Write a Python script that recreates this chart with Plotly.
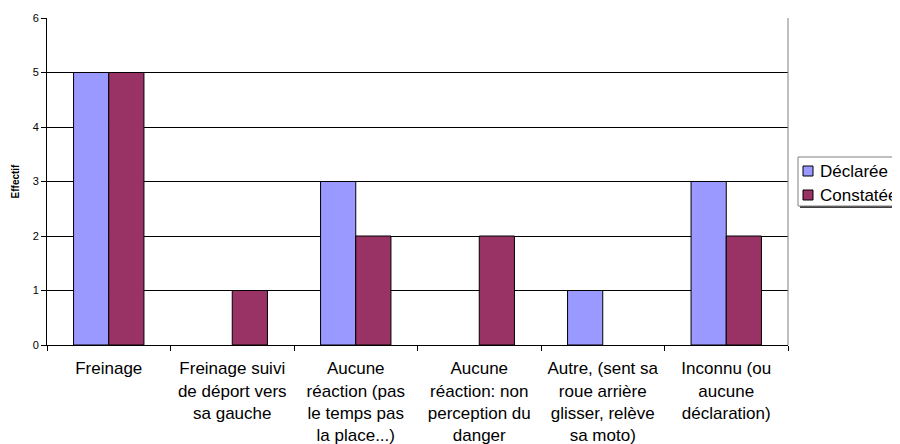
import plotly.graph_objects as go

categories = [
    "Freinage",
    "Freinage suivi<br>de déport vers<br>sa gauche",
    "Aucune<br>réaction (pas<br>le temps pas<br>la place...)",
    "Aucune<br>réaction: non<br>perception du<br>danger",
    "Autre, (sent sa<br>roue arrière<br>glisser, relève<br>sa moto)",
    "Inconnu (ou<br>aucune<br>déclaration)",
]
declaree = [5, 0, 3, 0, 1, 3]
constatee = [5, 1, 2, 2, 0, 2]
y_ticks = [0, 1, 2, 3, 4, 5, 6]
series = [("Déclarée", declaree, "#9999FF"), ("Constatée", constatee, "#993366")]

# page body has an 8px margin; target positions below are in screenshot pixels
OFF = 8
W, H = 900, 444
L, T = 47 - OFF, 18 - OFF
PR, PB = 788 - OFF, 345 - OFF
R, B = W - PR, H - PB
PW, PH = PR - L, PB - T


def px(x):
    return (x - OFF - L) / PW


def py(y):
    return (PB - (y - OFF)) / PH


fig = go.Figure()
for name, vals, col in series:
    fig.add_trace(go.Bar(
        x=categories, y=vals, name=name, showlegend=False,
        marker=dict(color=col, line=dict(color="black", width=[1 if v else 0 for v in vals]))))

fig.update_layout(
    width=W, height=H,
    margin=dict(l=L, r=R, t=T, b=B, autoexpand=False),
    paper_bgcolor="white", plot_bgcolor="white",
    barmode="group", bargap=0.43, bargroupgap=0,
    font=dict(family="Arial, Liberation Sans, sans-serif", color="black"),
    showlegend=False,
    xaxis=dict(type="category", showline=True, linecolor="black", linewidth=1,
               ticks="outside", tickson="boundaries", ticklen=5, tickcolor="black",
               tickfont=dict(size=17), showgrid=False, ticklabelstandoff=8,
               automargin=False),
    yaxis=dict(range=[0, 6], tickvals=y_ticks, showline=True, linecolor="black", linewidth=1,
               ticks="outside", ticklen=5, tickcolor="black",
               showgrid=True, gridcolor="black", gridwidth=1,
               tickfont=dict(size=11), zeroline=False, automargin=False,
               title=dict(text="<b>Effectif</b>", font=dict(size=10), standoff=11)),
)
# right border of plot area
fig.add_shape(type="line", xref="paper", yref="paper", x0=1, x1=1, y0=0, y1=1,
              line=dict(color="#808080", width=1))

# legend box with shadow
fig.add_shape(type="rect", xref="paper", yref="paper",
              x0=px(800), x1=px(905), y0=py(208), y1=py(159),
              line=dict(width=0), fillcolor="#404040", layer="above")
fig.add_shape(type="rect", xref="paper", yref="paper",
              x0=px(798), x1=px(903), y0=py(206), y1=py(157),
              line=dict(color="#808080", width=1), fillcolor="white", layer="above")
for i, (name, vals, col) in enumerate(series):
    yc = 171 + 24 * i
    fig.add_shape(type="rect", xref="paper", yref="paper",
                  x0=px(803), x1=px(813), y0=py(yc + 5), y1=py(yc - 5),
                  line=dict(color="black", width=1), fillcolor=col, layer="above")
    fig.add_annotation(xref="paper", yref="paper", x=px(818), y=py(yc),
                       xanchor="left", yanchor="middle", text=name, showarrow=False,
                       font=dict(size=17, color="black"))

fig.write_html("out.html")
